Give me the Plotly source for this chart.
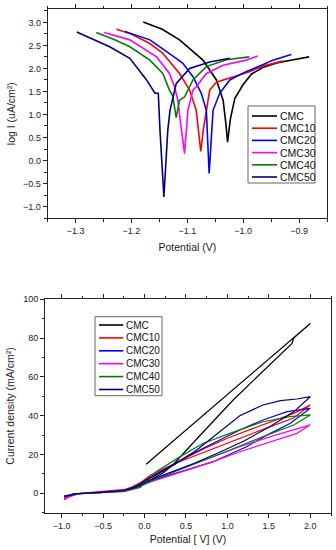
import plotly.graph_objects as go

# ---------------- data ----------------
names = ["CMC", "CMC10", "CMC20", "CMC30", "CMC40", "CMC50"]
colors = ["#000000", "#ff0000", "#0000ff", "#ff00ff", "#008000", "#000080"]

# Tafel plot: potential (V) vs log I (uA/cm2)
tafel_v = {
    "CMC":   [-1.179, -1.145, -1.114, -1.072, -1.048, -1.036, -1.031, -1.028, -1.023, -1.015, -1.000, -0.985, -0.965, -0.940, -0.910, -0.882],
    "CMC10": [-1.227, -1.203, -1.167, -1.144, -1.114, -1.096, -1.084, -1.079, -1.076, -1.071, -1.060, -1.048, -1.024, -0.989, -0.965, -0.929],
    "CMC20": [-1.212, -1.190, -1.167, -1.120, -1.108, -1.090, -1.075, -1.066, -1.061, -1.054, -1.042, -1.024, -0.995, -0.965, -0.947, -0.914],
    "CMC30": [-1.249, -1.203, -1.155, -1.132, -1.123, -1.117, -1.112, -1.105, -1.099, -1.090, -1.084, -1.066, -1.036, -0.995, -0.974],
    "CMC40": [-1.263, -1.230, -1.203, -1.167, -1.144, -1.132, -1.126, -1.120, -1.114, -1.105, -1.090, -1.066, -1.030, -0.989],
    "CMC50": [-1.298, -1.239, -1.203, -1.173, -1.158, -1.152, -1.149, -1.142, -1.135, -1.131, -1.120, -1.096, -1.060, -1.024],
}
tafel_log = {
    "CMC":   [3.01, 2.85, 2.62, 2.18, 1.75, 1.31, 0.80, 0.40, 0.90, 1.35, 1.65, 1.88, 2.02, 2.12, 2.19, 2.25],
    "CMC10": [2.85, 2.76, 2.54, 2.33, 1.89, 1.53, 1.09, 0.60, 0.20, 0.70, 1.53, 1.70, 1.80, 1.93, 2.05, 2.16],
    "CMC20": [2.80, 2.72, 2.62, 2.22, 2.11, 1.82, 1.46, 1.09, -0.28, 1.09, 1.46, 1.75, 1.93, 2.08, 2.18, 2.30],
    "CMC30": [2.78, 2.62, 2.25, 1.89, 1.60, 1.31, 0.80, 0.15, 1.09, 1.53, 1.60, 1.89, 2.07, 2.18, 2.27],
    "CMC40": [2.78, 2.62, 2.47, 2.18, 1.89, 1.53, 1.40, 0.93, 1.31, 1.38, 1.75, 2.04, 2.19, 2.25],
    "CMC50": [2.79, 2.47, 2.22, 1.75, 1.46, 1.46, 0.66, -0.79, 0.66, 1.09, 1.67, 2.00, 2.14, 2.22],
}

# Cyclic curves: potential [V] vs current density (mA/cm2)
cv_v = {
    "CMC":   [0.02, 2.00, 1.80, 1.78, 1.07, 0.63, 0.35, 0.22, 0.05],
    "CMC10": [-0.97, -0.85, -0.60, -0.40, -0.25, -0.10, 0.00, 0.24, 0.49, 0.73, 1.00, 1.27, 1.55, 1.80, 2.00,
              1.80, 1.47, 1.06, 0.65, 0.33, 0.08, -0.05, -0.20, -0.50, -0.80, -0.97],
    "CMC20": [-0.97, -0.85, -0.60, -0.40, -0.25, -0.10, 0.02, 0.23, 0.51, 0.83, 1.15, 1.43, 1.72, 2.00,
              1.76, 1.52, 1.23, 0.83, 0.51, 0.23, 0.05, -0.10, -0.25, -0.50, -0.80, -0.97],
    "CMC30": [-0.97, -0.85, -0.60, -0.40, -0.25, -0.10, 0.05, 0.23, 0.51, 0.83, 1.15, 1.52, 1.84, 2.00,
              1.84, 1.52, 1.15, 0.83, 0.51, 0.27, 0.05, -0.10, -0.25, -0.50, -0.80, -0.97],
    "CMC40": [-0.97, -0.85, -0.60, -0.40, -0.25, -0.05, 0.14, 0.43, 0.71, 1.03, 1.43, 1.76, 2.00,
              1.80, 1.43, 1.03, 0.63, 0.31, 0.06, -0.10, -0.25, -0.50, -0.80, -0.97],
    "CMC50": [-0.97, -0.85, -0.60, -0.40, -0.25, -0.10, 0.02, 0.145, 0.35, 0.63, 0.91, 1.15, 1.43, 1.64, 1.84, 2.00,
              1.80, 1.50, 1.20, 0.90, 0.60, 0.30, 0.05, -0.10, -0.25, -0.50, -0.80, -0.97],
}
cv_i = {
    "CMC":   [15.0, 87.5, 80.0, 77.3, 48.1, 28.0, 15.0, 10.3, 6.5],
    "CMC10": [-3.3, -0.5, 0.6, 1.4, 1.8, 4.0, 6.9, 12.1, 18.1, 23.3, 28.4, 32.8, 37.1, 41.2, 45.5,
              38.8, 33.6, 26.7, 19.8, 14.7, 9.5, 5.5, 2.2, 1.0, -0.2, -2.8],
    "CMC20": [-2.0, -0.3, 0.4, 1.0, 1.4, 3.5, 6.8, 12.0, 18.9, 25.8, 32.6, 37.8, 42.1, 43.8,
              36.1, 30.9, 24.0, 16.3, 12.0, 8.6, 6.0, 3.0, 1.2, 0.5, -0.2, -1.8],
    "CMC30": [-2.8, -0.5, 0.4, 1.0, 1.4, 3.2, 6.0, 9.4, 13.7, 18.9, 24.0, 29.2, 33.5, 35.3,
              30.9, 26.6, 21.4, 16.3, 12.0, 8.6, 5.5, 2.8, 1.2, 0.5, -0.3, -2.5],
    "CMC40": [-1.5, -0.3, 0.2, 0.6, 0.9, 3.0, 11.1, 18.9, 25.8, 30.9, 36.9, 39.5, 40.4,
              35.2, 29.2, 22.3, 15.5, 10.3, 6.0, 2.6, 0.9, 0.4, -0.2, -1.3],
    "CMC50": [-1.8, -0.3, 0.4, 1.0, 1.4, 3.5, 6.9, 9.5, 14.5, 22.3, 32.0, 40.0, 45.5, 47.8, 48.6, 49.8,
              42.0, 34.0, 27.0, 21.0, 15.5, 10.5, 6.5, 3.2, 1.3, 0.5, -0.2, -1.6],
}

# ---------------- figure ----------------
W, H = 336, 550
FONT = "Arial, Liberation Sans, sans-serif"
fig = go.Figure()

for n, c in zip(names, colors):
    fig.add_trace(go.Scatter(x=tafel_v[n], y=tafel_log[n], mode="lines", name=n,
                             line=dict(color=c, width=1.6), xaxis="x", yaxis="y",
                             showlegend=False))
for n, c in zip(names, colors):
    fig.add_trace(go.Scatter(x=cv_v[n], y=cv_i[n], mode="lines", name=n,
                             line=dict(color=c, width=1.2), xaxis="x2", yaxis="y2",
                             showlegend=False))

def px_x(p):
    return p / W

def px_y(p):
    return 1 - p / H

axis_common = dict(showline=True, linecolor="#222", linewidth=1, showgrid=False, zeroline=False,
                   ticks="outside", ticklen=4, tickcolor="#222", tickwidth=1,
                   tickfont=dict(family=FONT, size=9, color="#222"), automargin=False)

fig.update_layout(
    width=W, height=H, margin=dict(l=0, r=0, t=0, b=0),
    paper_bgcolor="white", plot_bgcolor="white",
    font=dict(family=FONT, color="#222"),
    xaxis=dict(axis_common, domain=[px_x(47.7), px_x(327)], anchor="y", range=[-1.35, -0.85],
               tick0=-1.3, dtick=0.1, tickformat=".1f", mirror="allticks",
               minor=dict(ticks="outside", ticklen=2.5, dtick=0.05, tick0=-1.3, tickcolor="#222"),
               title=dict(text="Potential (V)", font=dict(family=FONT, size=10.5), standoff=8)),
    yaxis=dict(axis_common, domain=[px_y(218.3), px_y(9)], anchor="x", range=[-1.254, 3.29],
               tick0=0, dtick=0.5, tickformat=".1f", mirror=True,
               minor=dict(ticks="outside", ticklen=2.5, dtick=0.25, tick0=0, tickcolor="#222"),
               title=dict(text="log I (uA/cm²)", font=dict(family=FONT, size=10.5), standoff=5)),
    xaxis2=dict(axis_common, domain=[px_x(45), px_x(331)], anchor="y2", range=[-1.2, 2.25],
                tick0=0, dtick=0.5, tickformat=".1f", mirror="allticks",
                minor=dict(ticks="outside", ticklen=2.5, dtick=0.25, tick0=0, tickcolor="#222"),
                title=dict(text="Potential [ V] (V)", font=dict(family=FONT, size=10.5), standoff=6)),
    yaxis2=dict(axis_common, domain=[px_y(512.7), px_y(299.3)], anchor="x2", range=[-10, 100],
                tick0=0, dtick=20, mirror=True,
                minor=dict(ticks="outside", ticklen=2.5, dtick=10, tick0=0, tickcolor="#222"),
                title=dict(text="Current density (mA/cm²)", font=dict(family=FONT, size=10.5), standoff=6)),
)

# ---------------- manual legends ----------------
shapes = []
annotations = []

def add_legend(box, line_x0, line_x1, text_x, row0, step, fsize):
    x0, y0, x1, y1 = box
    shapes.append(dict(type="rect", xref="paper", yref="paper",
                       x0=px_x(x0), x1=px_x(x1), y0=px_y(y1), y1=px_y(y0),
                       line=dict(color="#666", width=1), fillcolor="white", layer="above"))
    for k, (n, c) in enumerate(zip(names, colors)):
        yy = row0 + k * step
        shapes.append(dict(type="line", xref="paper", yref="paper",
                           x0=px_x(line_x0), x1=px_x(line_x1), y0=px_y(yy), y1=px_y(yy),
                           line=dict(color=c, width=1.6), layer="above"))
        annotations.append(dict(xref="paper", yref="paper", x=px_x(text_x), y=px_y(yy),
                                xanchor="left", yanchor="middle", showarrow=False, text=n,
                                font=dict(family=FONT, size=fsize, color="#111")))

add_legend((248, 106, 315, 183), 252, 277, 277.5, 116, 12.2, 10.5)
add_legend((95, 316.7, 162, 395.7), 99, 123.3, 123.5, 325, 12.9, 10)

fig.update_layout(shapes=shapes, annotations=annotations)

# remove the browser's default 8px body margin so the figure sits at the page corner
fig.write_html("out.html", config={"displayModeBar": False},
               post_script="document.body.style.margin='0';")
